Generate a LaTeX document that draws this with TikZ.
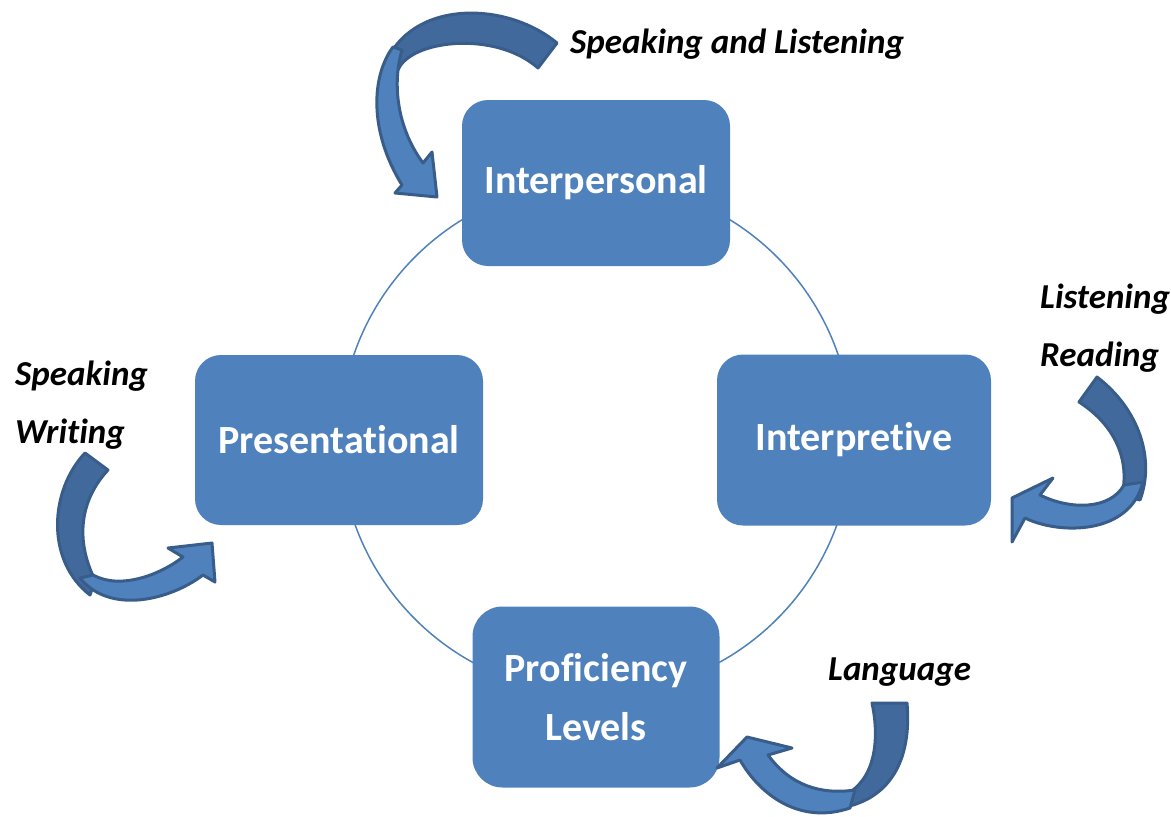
\documentclass[tikz,border=0pt]{standalone}
\usepackage{fontspec}
\setmainfont{Carlito}[Ligatures=CommonOff]
\definecolor{boxblue}{HTML}{4F81BD}
\definecolor{arrowdark}{HTML}{41699C}
\definecolor{arrowline}{HTML}{385D8A}
\tikzset{
  mode/.style={rectangle, rounded corners=26pt, fill=boxblue, text=white,
    inner sep=0pt, align=center, font=\fontsize{40}{59}\selectfont\bfseries},
  skill/.style={inner sep=0pt, align=left, font=\fontsize{35}{58}\selectfont\bfseries\itshape},
  bandback/.style={fill=arrowdark, draw=arrowline, line width=3pt, line join=round},
  bandfront/.style={fill=boxblue, draw=arrowline, line width=3pt, line join=round}
}
\begin{document}
\begin{tikzpicture}[x=1pt,y=-1pt]
    \useasboundingbox (0,0) rectangle (1171,817);

    % Cycle
    \draw[boxblue, line width=1.5pt] (596,438) circle[radius=256pt];

    % Modes
    \node[mode, minimum width=268pt, minimum height=166pt] (inter) at (596,183) {Interpersonal};
    \node[mode, minimum width=288pt, minimum height=170pt] (pres) at (339,440) {Presentational};
    \node[mode, minimum width=274pt, minimum height=171pt] (interp) at (854,440) {Interpretive};
    \node[mode, minimum width=247pt, minimum height=181pt, rounded corners=30pt] (prof) at (596,697) {Proficiency\\Levels};

    % Curved arrow, top
    \filldraw[bandback] (557,43) .. controls (505,0) and (410,0) .. (385,65)
        -- (398,70) .. controls (410,40) and (495,30) .. (538,68) -- cycle;
    \filldraw[bandfront] (393,47) .. controls (372,75) and (368,130) .. (402,185)
        -- (395,193) -- (437,197) -- (432,152) -- (423,163)
        .. controls (395,125) and (393,80) .. (402,50) -- cycle;

    % Curved arrow, right
    \filldraw[bandback] (1097,377) .. controls (1140,410) and (1155,460) .. (1140,500)
        -- (1122,495) .. controls (1130,460) and (1115,425) .. (1079,402) -- cycle;
    \filldraw[bandfront] (1143,482) .. controls (1130,535) and (1060,535) .. (1025,518)
        -- (1012,542) -- (1012,498) -- (1053,478) -- (1040,495)
        .. controls (1070,510) and (1110,510) .. (1124,485) -- cycle;

    % Curved arrow, left
    \filldraw[bandback] (85,453) .. controls (50,490) and (45,560) .. (90,595)
        -- (95,580) .. controls (75,540) and (80,500) .. (108,470) -- cycle;
    \filldraw[bandfront] (80,578) .. controls (110,615) and (170,600) .. (203,575)
        -- (215,582) -- (212,543) -- (168,548) -- (183,557)
        .. controls (160,575) and (120,590) .. (93,575) -- cycle;

    % Curved arrow, bottom
    \filldraw[bandback] (907,703) .. controls (912,760) and (890,800) .. (840,808)
        -- (845,795) .. controls (875,780) and (880,740) .. (872,703) -- cycle;
    \filldraw[bandfront] (850,808) .. controls (800,825) and (760,795) .. (740,760)
        -- (717,768) -- (747,737) -- (792,748) -- (768,755)
        .. controls (790,785) and (820,795) .. (855,790) -- cycle;

    % Skills
    \node[skill, anchor=base west] (sl) at (570,53) {Speaking and Listening};
    \node[skill, anchor=base west] (lr) at (1040,366) {Listening\\Reading};
    \node[skill, anchor=base west] (sw) at (15,443) {Speaking\\Writing};
    \node[skill, anchor=base west] (lang) at (828,680) {Language};
\end{tikzpicture}
\end{document}
